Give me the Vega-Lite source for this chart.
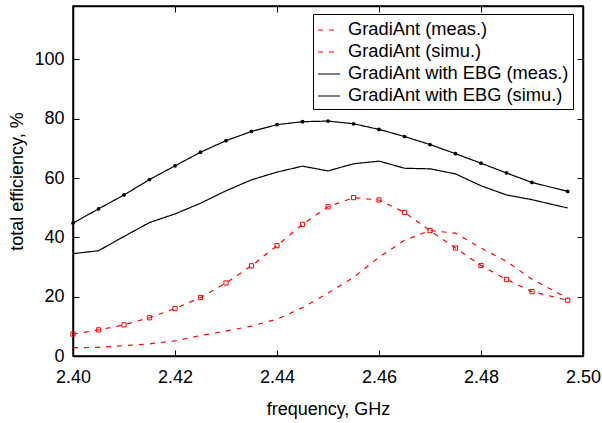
{
  "$schema": "https://vega.github.io/schema/vega-lite/v6.json",
  "width": 510,
  "height": 350,
  "autosize": {"type": "none"},
  "padding": {"left": 73, "top": 6, "right": 19, "bottom": 67},
  "background": "white",
  "config": {
    "font": "Liberation Sans",
    "view": {"stroke": "black", "strokeWidth": 1.5},
    "axis": {
      "grid": false,
      "domainColor": "black",
      "domainWidth": 1.5,
      "tickColor": "black",
      "tickWidth": 1,
      "tickSize": -6,
      "labelFont": "Liberation Sans",
      "labelFontSize": 18,
      "labelColor": "black",
      "titleFont": "Liberation Sans",
      "titleFontSize": 18,
      "titleFontWeight": "normal",
      "titleColor": "black"
    }
  },
  "data": {
    "values": [
      {"s": "GradiAnt (meas.)", "f": 2.400, "e": 2.8},
      {"s": "GradiAnt (meas.)", "f": 2.405, "e": 2.9},
      {"s": "GradiAnt (meas.)", "f": 2.410, "e": 3.5},
      {"s": "GradiAnt (meas.)", "f": 2.415, "e": 4.1},
      {"s": "GradiAnt (meas.)", "f": 2.420, "e": 5.1},
      {"s": "GradiAnt (meas.)", "f": 2.425, "e": 6.9},
      {"s": "GradiAnt (meas.)", "f": 2.430, "e": 8.4},
      {"s": "GradiAnt (meas.)", "f": 2.435, "e": 10.1},
      {"s": "GradiAnt (meas.)", "f": 2.440, "e": 12.4},
      {"s": "GradiAnt (meas.)", "f": 2.445, "e": 16.3},
      {"s": "GradiAnt (meas.)", "f": 2.450, "e": 21.2},
      {"s": "GradiAnt (meas.)", "f": 2.455, "e": 26.5},
      {"s": "GradiAnt (meas.)", "f": 2.460, "e": 33.3},
      {"s": "GradiAnt (meas.)", "f": 2.465, "e": 39.0},
      {"s": "GradiAnt (meas.)", "f": 2.470, "e": 42.3},
      {"s": "GradiAnt (meas.)", "f": 2.475, "e": 41.4},
      {"s": "GradiAnt (meas.)", "f": 2.480, "e": 36.4},
      {"s": "GradiAnt (meas.)", "f": 2.485, "e": 31.9},
      {"s": "GradiAnt (meas.)", "f": 2.490, "e": 25.9},
      {"s": "GradiAnt (meas.)", "f": 2.497, "e": 19.5},

      {"s": "GradiAnt (simu.)", "f": 2.400, "e": 7.4},
      {"s": "GradiAnt (simu.)", "f": 2.405, "e": 8.8},
      {"s": "GradiAnt (simu.)", "f": 2.410, "e": 10.5},
      {"s": "GradiAnt (simu.)", "f": 2.415, "e": 12.9},
      {"s": "GradiAnt (simu.)", "f": 2.420, "e": 16.0},
      {"s": "GradiAnt (simu.)", "f": 2.425, "e": 19.7},
      {"s": "GradiAnt (simu.)", "f": 2.430, "e": 24.6},
      {"s": "GradiAnt (simu.)", "f": 2.435, "e": 30.4},
      {"s": "GradiAnt (simu.)", "f": 2.440, "e": 37.2},
      {"s": "GradiAnt (simu.)", "f": 2.445, "e": 44.4},
      {"s": "GradiAnt (simu.)", "f": 2.450, "e": 50.3},
      {"s": "GradiAnt (simu.)", "f": 2.455, "e": 53.4},
      {"s": "GradiAnt (simu.)", "f": 2.460, "e": 52.6},
      {"s": "GradiAnt (simu.)", "f": 2.465, "e": 48.4},
      {"s": "GradiAnt (simu.)", "f": 2.470, "e": 42.3},
      {"s": "GradiAnt (simu.)", "f": 2.475, "e": 36.4},
      {"s": "GradiAnt (simu.)", "f": 2.480, "e": 30.5},
      {"s": "GradiAnt (simu.)", "f": 2.485, "e": 25.8},
      {"s": "GradiAnt (simu.)", "f": 2.490, "e": 21.7},
      {"s": "GradiAnt (simu.)", "f": 2.497, "e": 18.8},

      {"s": "GradiAnt with EBG (meas.)", "f": 2.400, "e": 34.5},
      {"s": "GradiAnt with EBG (meas.)", "f": 2.405, "e": 35.5},
      {"s": "GradiAnt with EBG (meas.)", "f": 2.410, "e": 40.3},
      {"s": "GradiAnt with EBG (meas.)", "f": 2.415, "e": 45.0},
      {"s": "GradiAnt with EBG (meas.)", "f": 2.420, "e": 47.9},
      {"s": "GradiAnt with EBG (meas.)", "f": 2.425, "e": 51.5},
      {"s": "GradiAnt with EBG (meas.)", "f": 2.430, "e": 55.7},
      {"s": "GradiAnt with EBG (meas.)", "f": 2.435, "e": 59.4},
      {"s": "GradiAnt with EBG (meas.)", "f": 2.440, "e": 62.0},
      {"s": "GradiAnt with EBG (meas.)", "f": 2.445, "e": 64.0},
      {"s": "GradiAnt with EBG (meas.)", "f": 2.450, "e": 62.4},
      {"s": "GradiAnt with EBG (meas.)", "f": 2.455, "e": 64.8},
      {"s": "GradiAnt with EBG (meas.)", "f": 2.460, "e": 65.7},
      {"s": "GradiAnt with EBG (meas.)", "f": 2.465, "e": 63.3},
      {"s": "GradiAnt with EBG (meas.)", "f": 2.470, "e": 63.1},
      {"s": "GradiAnt with EBG (meas.)", "f": 2.475, "e": 61.4},
      {"s": "GradiAnt with EBG (meas.)", "f": 2.480, "e": 57.4},
      {"s": "GradiAnt with EBG (meas.)", "f": 2.485, "e": 54.3},
      {"s": "GradiAnt with EBG (meas.)", "f": 2.490, "e": 52.7},
      {"s": "GradiAnt with EBG (meas.)", "f": 2.497, "e": 49.9},

      {"s": "GradiAnt with EBG (simu.)", "f": 2.400, "e": 44.8},
      {"s": "GradiAnt with EBG (simu.)", "f": 2.405, "e": 49.6},
      {"s": "GradiAnt with EBG (simu.)", "f": 2.410, "e": 54.3},
      {"s": "GradiAnt with EBG (simu.)", "f": 2.415, "e": 59.5},
      {"s": "GradiAnt with EBG (simu.)", "f": 2.420, "e": 64.1},
      {"s": "GradiAnt with EBG (simu.)", "f": 2.425, "e": 68.7},
      {"s": "GradiAnt with EBG (simu.)", "f": 2.430, "e": 72.6},
      {"s": "GradiAnt with EBG (simu.)", "f": 2.435, "e": 75.7},
      {"s": "GradiAnt with EBG (simu.)", "f": 2.440, "e": 78.0},
      {"s": "GradiAnt with EBG (simu.)", "f": 2.445, "e": 79.0},
      {"s": "GradiAnt with EBG (simu.)", "f": 2.450, "e": 79.2},
      {"s": "GradiAnt with EBG (simu.)", "f": 2.455, "e": 78.3},
      {"s": "GradiAnt with EBG (simu.)", "f": 2.460, "e": 76.4},
      {"s": "GradiAnt with EBG (simu.)", "f": 2.465, "e": 74.0},
      {"s": "GradiAnt with EBG (simu.)", "f": 2.470, "e": 71.3},
      {"s": "GradiAnt with EBG (simu.)", "f": 2.475, "e": 68.2},
      {"s": "GradiAnt with EBG (simu.)", "f": 2.480, "e": 65.0},
      {"s": "GradiAnt with EBG (simu.)", "f": 2.485, "e": 61.7},
      {"s": "GradiAnt with EBG (simu.)", "f": 2.490, "e": 58.5},
      {"s": "GradiAnt with EBG (simu.)", "f": 2.497, "e": 55.5}
    ]
  },
  "resolve": {"axis": {"x": "independent", "y": "independent"}},
  "layer": [
    {
      "mark": {"type": "line", "strokeWidth": 1.2, "clip": true},
      "encoding": {
        "x": {
          "field": "f", "type": "quantitative",
          "scale": {"domain": [2.40, 2.50], "nice": false, "zero": false},
          "axis": {"orient": "bottom", "values": [2.40, 2.42, 2.44, 2.46, 2.48, 2.50], "format": ".2f", "title": "frequency, GHz", "labelPadding": 18, "titlePadding": 14, "labelFlush": false}
        },
        "y": {
          "field": "e", "type": "quantitative",
          "scale": {"domain": [0, 118], "nice": false},
          "axis": {"orient": "left", "values": [0, 20, 40, 60, 80, 100], "title": "total efficiency, %", "labelPadding": 15, "titlePadding": 7}
        },
        "color": {
          "field": "s", "type": "nominal",
          "scale": {
            "domain": ["GradiAnt (meas.)", "GradiAnt (simu.)", "GradiAnt with EBG (meas.)", "GradiAnt with EBG (simu.)"],
            "range": ["#ff0000", "#ff0000", "#000000", "#000000"]
          },
          "legend": {
            "title": null,
            "orient": "none",
            "legendX": 240,
            "legendY": 8,
            "symbolType": "stroke",
            "symbolSize": 484,
            "symbolStrokeWidth": 1.2,
            "labelFontSize": 18.3,
            "labelFont": "Liberation Sans",
            "labelColor": "black",
            "labelOffset": 7,
            "rowPadding": 1,
            "padding": 4,
            "strokeColor": "black",
            "fillColor": "white",
            "labelLimit": 400
          }
        },
        "strokeDash": {
          "field": "s", "type": "nominal",
          "scale": {
            "domain": ["GradiAnt (meas.)", "GradiAnt (simu.)", "GradiAnt with EBG (meas.)", "GradiAnt with EBG (simu.)"],
            "range": [[5, 6], [5, 6], [1, 0], [1, 0]]
          },
          "legend": {
            "title": null,
            "orient": "none",
            "legendX": 240,
            "legendY": 8,
            "symbolType": "stroke",
            "symbolSize": 484,
            "symbolStrokeWidth": 1.2,
            "labelFontSize": 18.3,
            "labelOffset": 7,
            "rowPadding": 1,
            "padding": 4,
            "strokeColor": "black",
            "fillColor": "white",
            "labelLimit": 400
          }
        }
      }
    },
    {
      "transform": [{"filter": "datum.s == 'GradiAnt (simu.)'"}],
      "mark": {"type": "point", "shape": "square", "filled": false, "color": "#ff0000", "size": 18, "strokeWidth": 1, "opacity": 1},
      "encoding": {
        "x": {"field": "f", "type": "quantitative", "axis": {"orient": "top", "values": [2.40, 2.42, 2.44, 2.46, 2.48, 2.50], "labels": false, "title": null}},
        "y": {"field": "e", "type": "quantitative", "axis": {"orient": "right", "values": [0, 20, 40, 60, 80, 100], "labels": false, "title": null}}
      }
    },
    {
      "transform": [{"filter": "datum.s == 'GradiAnt with EBG (simu.)'"}],
      "mark": {"type": "point", "shape": "circle", "filled": true, "color": "#000000", "size": 14, "opacity": 1},
      "encoding": {
        "x": {"field": "f", "type": "quantitative", "axis": null},
        "y": {"field": "e", "type": "quantitative", "axis": null}
      }
    }
  ]
}
